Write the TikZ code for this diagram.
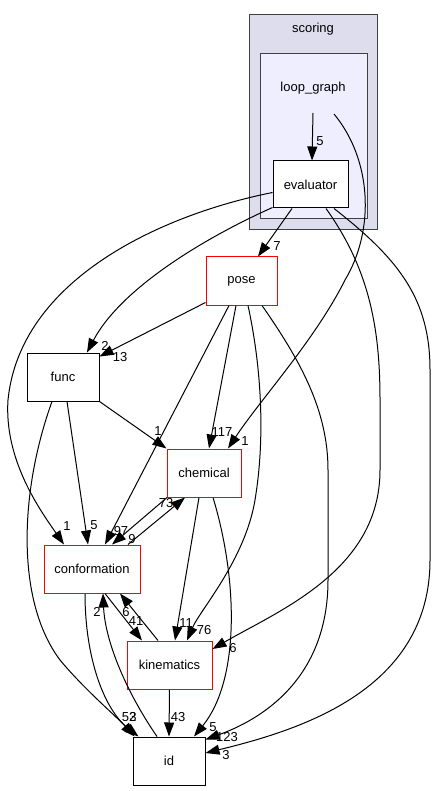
\documentclass[tikz,border=0pt]{standalone}
\usepackage{fontspec}
\setmainfont{Liberation Sans}
\usetikzlibrary{arrows.meta}

\begin{document}
\begin{tikzpicture}[x=1pt,y=-1pt,
    every node/.style={font=\fontsize{13}{15}\selectfont},
    dirbox/.style={draw=black,fill=white,line width=1pt,minimum width=#1,minimum height=48pt,inner sep=0pt},
    reddir/.style={dirbox=#1,draw=red},
    dep/.style={-{Triangle[length=14pt,width=10pt]},line width=1pt},
    num/.style={inner sep=0pt}]
    \useasboundingbox (0,0) rectangle (436,791);

    % clusters
    \draw[fill={rgb,255:red,221;green,221;blue,238},draw={rgb,255:red,64;green,64;blue,64},line width=1pt] (249,15) rectangle (377,230);
    \draw[fill={rgb,255:red,238;green,238;blue,255},draw={rgb,255:red,64;green,64;blue,64},line width=1pt] (260,54) rectangle (367,219);
    \node (scoring) at (313,29) {scoring};
    \node (loopgraph) at (313,88) {loop\_graph};
    \coordinate (lgtop) at (313,113);
    \coordinate (lgside) at (334,114);

    % directories
    \node[dirbox=75pt,minimum height=47pt] (evaluator) at (310.5,184.5) {evaluator};
    \node[reddir=71pt] (pose) at (241.5,281) {pose};
    \node[dirbox=72pt] (func) at (63,377) {func};
    \node[reddir=74pt] (chemical) at (204,473) {chemical};
    \node[reddir=96pt] (conformation) at (92,569) {conformation};
    \node[reddir=85pt] (kinematics) at (169.5,665) {kinematics};
    \node[dirbox=72pt] (id) at (169,761) {id};

    % loop_graph
    \draw[dep] (lgtop) -- ([xshift=1.5pt]evaluator.north);
    \draw[dep] (lgside) .. controls (372,160) and (375,230) .. (345,280) .. controls (315,340) and (260,400) .. ([xshift=24pt]chemical.north);

    % evaluator
    \draw[dep] ([xshift=-18.5pt]evaluator.south) -- ([xshift=16.5pt]pose.north);
    \draw[dep] ([yshift=1pt]evaluator.south west) .. controls (200,240) and (120,290) .. ([xshift=24pt]func.north);
    \draw[dep] ([yshift=-8pt]evaluator.west) .. controls (160,215) and (20,280) .. (8,400) .. controls (4,460) and (40,510) .. ([xshift=-28pt]conformation.north);
    \draw[dep] ([xshift=15.5pt]evaluator.south) .. controls (370,270) and (380,330) .. (380,400) -- (380,470) .. controls (380,570) and (280,610) .. ([yshift=16pt]kinematics.east);
    \draw[dep] ([xshift=23.5pt]evaluator.south) .. controls (400,260) and (430,300) .. (430,370) -- (430,560) .. controls (430,690) and (300,730) .. ([yshift=8pt]id.east);

    % pose
    \draw[dep] ([yshift=3pt]pose.south west) -- ([yshift=-4pt]func.north east);
    \draw[dep] ([xshift=-5.5pt]pose.south) -- ([xshift=5pt]chemical.north);
    \draw[dep] ([xshift=-12.5pt]pose.south) -- ([xshift=13pt]conformation.north);
    \draw[dep] ([xshift=6.5pt]pose.south) .. controls (262,370) and (265,440) .. (255,500) .. controls (245,560) and (200,610) .. ([xshift=17.5pt]kinematics.north);
    \draw[dep] ([xshift=20.5pt]pose.south) .. controls (300,360) and (328,410) .. (328,470) -- (328,580) .. controls (328,680) and (260,720) .. ([yshift=-3pt]id.north east);

    % func
    \draw[dep] (func.south east) -- (chemical.north west);
    \draw[dep] ([xshift=4pt]func.south) -- ([xshift=-4pt]conformation.north);
    \draw[dep] ([xshift=-11pt]func.south) .. controls (20,490) and (15,600) .. (60,660) .. controls (85,690) and (115,715) .. ([xshift=2pt]id.north west);

    % chemical, conformation, kinematics
    \draw[dep] ([xshift=-37pt]chemical.south) -- ([xshift=20pt]conformation.north);
    \draw[dep] ([xshift=36pt]conformation.north) -- ([xshift=-19pt]chemical.south);
    \draw[dep] ([xshift=-5pt]chemical.south) -- ([xshift=5.5pt]kinematics.north);
    \draw[dep] ([xshift=9pt]chemical.south) .. controls (238,580) and (240,680) .. ([xshift=25pt]id.north);
    \draw[dep] ([xshift=-7pt]conformation.south) .. controls (85,660) and (105,710) .. ([xshift=6pt]id.north west);
    \draw[dep] ([xshift=13pt]conformation.south) -- ([xshift=-27.5pt]kinematics.north);
    \draw[dep] ([xshift=-11.5pt]kinematics.north) -- ([xshift=28pt]conformation.south);
    \draw[dep] ([xshift=-12pt]id.north) .. controls (125,690) and (105,640) .. ([xshift=11pt]conformation.south);
    \draw[dep] (kinematics.south) -- (id.north);

    % counts
    \node[num] (n1) at (320,141) {5};
    \node[num] (n2) at (245,441) {1};
    \node[num] (n3) at (277,246) {7};
    \node[num] (n4) at (105,346) {2};
    \node[num] (n5) at (67,526) {1};
    \node[num] (n6) at (233,648) {6};
    \node[num] (n7) at (226,755) {3};
    \node[num] (n8) at (120,357) {13};
    \node[num] (n9) at (222,432) {117};
    \node[num] (n10) at (121,531) {97};
    \node[num] (n11) at (204,630) {76};
    \node[num] (n12) at (227,737) {123};
    \node[num] (n13) at (158,431) {1};
    \node[num] (n14) at (94,525) {5};
    \node[num] (n15) at (133,717) {3};
    \node[num] (n16) at (129,717) {52};
    \node[num] (n17) at (97,612) {2};
    \node[num] (n18) at (136,621) {41};
    \node[num] (n19) at (126,612) {6};
    \node[num] (n20) at (178,717) {43};
    \node[num] (n21) at (186,623) {11};
    \node[num] (n22) at (213,727) {5};
    \node[num] (n23) at (166,503) {73};
    \node[num] (n24) at (132,539) {9};
\end{tikzpicture}
\end{document}
